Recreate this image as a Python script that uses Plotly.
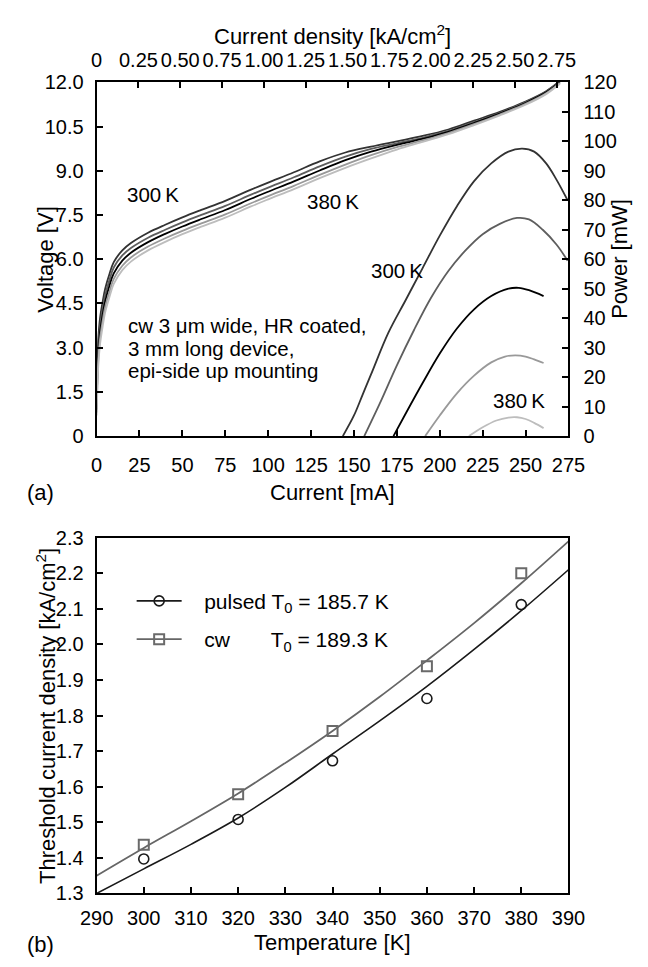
import plotly.graph_objects as go

W, H = 648, 967
FONT = "Liberation Sans, Arial, Helvetica, sans-serif"

# ---------------- Panel (a) data ----------------
current_v = [0, 0.5, 1, 2, 3.5, 5, 7.5, 10, 15, 20, 30, 40, 50, 60, 75, 90, 100,
             115, 130, 145, 160, 175, 190, 205, 220, 235, 250, 262, 270]
v_300 = [1.2, 2.6, 3.3, 4.0, 4.55, 5.0, 5.5, 5.9, 6.3, 6.55, 6.9, 7.17, 7.42, 7.65, 7.98,
         8.36, 8.6, 8.95, 9.32, 9.62, 9.82, 10.0, 10.18, 10.4, 10.7, 11.0, 11.35, 11.7, 12.05]
v_320 = [1.0, 2.3, 3.0, 3.7, 4.3, 4.78, 5.3, 5.72, 6.13, 6.38, 6.73, 7.0, 7.25, 7.48, 7.81,
         8.19, 8.43, 8.78, 9.15, 9.48, 9.74, 9.93, 10.12, 10.35, 10.65, 10.96, 11.32, 11.68, 12.03]
v_340 = [0.9, 2.1, 2.8, 3.5, 4.1, 4.57, 5.1, 5.52, 5.95, 6.22, 6.58, 6.86, 7.11, 7.34, 7.67,
         8.05, 8.29, 8.64, 9.01, 9.36, 9.65, 9.88, 10.08, 10.32, 10.62, 10.94, 11.3, 11.66, 12.0]
v_360 = [0.8, 1.9, 2.6, 3.3, 3.9, 4.38, 4.9, 5.33, 5.78, 6.06, 6.43, 6.71, 6.96, 7.19, 7.52,
         7.9, 8.14, 8.49, 8.86, 9.21, 9.53, 9.8, 10.03, 10.28, 10.58, 10.91, 11.27, 11.63, 11.98]
v_380 = [0.7, 1.7, 2.4, 3.1, 3.7, 4.2, 4.72, 5.16, 5.63, 5.92, 6.3, 6.59, 6.85, 7.08, 7.41,
         7.79, 8.03, 8.38, 8.75, 9.1, 9.42, 9.72, 9.98, 10.24, 10.55, 10.88, 11.24, 11.6, 11.95]

cur_p300 = [143.5, 150, 155, 160, 170, 180, 190, 200, 210, 220, 230, 240, 248, 255, 262, 268, 274.5]
p_300 = [0, 7, 14, 21, 35, 46, 57, 68, 78, 86.5, 92.5, 96.5, 97.5, 96.5, 92.5, 87, 80]
cur_p320 = [156, 165, 175, 185, 195, 205, 215, 225, 235, 245, 252, 260, 268, 274.5]
p_320 = [0, 11, 24, 36, 47, 56, 63, 68.5, 72, 74, 73.5, 70, 65, 59.5]
cur_p340 = [173, 180, 190, 200, 210, 220, 230, 240, 246, 252, 260.5]
p_340 = [0, 7.5, 18, 28, 36.5, 43, 47.5, 50, 50.3, 49.5, 47.5]
cur_p360 = [191.5, 200, 210, 220, 230, 238, 244, 250, 255, 260.5]
p_360 = [0, 7, 14.5, 20.5, 25, 27, 27.4, 27, 26, 24.8]
cur_p380 = [217, 225, 233, 240, 245, 250, 255, 260.5]
p_380 = [0, 3, 5.3, 6.3, 6.4, 5.8, 4.5, 2.7]

curve_colors = ["#333333", "#5e5e5e", "#000000", "#999999", "#bdbdbd"]

x_ticks = [0, 25, 50, 75, 100, 125, 150, 175, 200, 225, 250, 275]
density_ticks = [0, 0.25, 0.5, 0.75, 1.0, 1.25, 1.5, 1.75, 2.0, 2.25, 2.5, 2.75]
density_labels = ["0", "0.25", "0.50", "0.75", "1.00", "1.25", "1.50", "1.75", "2.00",
                  "2.25", "2.50", "2.75"]
v_ticks = [0, 1.5, 3.0, 4.5, 6.0, 7.5, 9.0, 10.5, 12.0]
v_labels = ["0", "1.5", "3.0", "4.5", "6.0", "7.5", "9.0", "10.5", "12.0"]
p_ticks = [0, 10, 20, 30, 40, 50, 60, 70, 80, 90, 100, 110, 120]

# ---------------- Panel (b) data ----------------
temp = [300, 320, 340, 360, 380]
jth_pulsed = [1.397, 1.508, 1.673, 1.848, 2.112]
jth_cw = [1.437, 1.579, 1.757, 1.939, 2.200]
temp_fit = [290, 300, 310, 320, 330, 340, 350, 360, 370, 380, 390]
fit_pulsed = [1.300, 1.369, 1.438, 1.512, 1.598, 1.692, 1.785, 1.882, 1.986, 2.095, 2.210]
fit_cw = [1.350, 1.428, 1.503, 1.581, 1.667, 1.757, 1.853, 1.955, 2.060, 2.172, 2.290]
t_ticks = [290, 300, 310, 320, 330, 340, 350, 360, 370, 380, 390]
j_ticks = [1.3, 1.4, 1.5, 1.6, 1.7, 1.8, 1.9, 2.0, 2.1, 2.2, 2.3]

# ---------------- layout geometry (page pixels) ----------------
AX_L, AX_R = 84, 582
A_TOP, A_BOT = 73, 435
B_TOP, B_BOT = 539, 903


def px_x(px):
    return px / W


def px_y(py):
    return 1 - py / H


fig = go.Figure()

for vals, col in zip([v_300, v_320, v_340, v_360, v_380], curve_colors):
    fig.add_trace(go.Scatter(x=current_v, y=vals, mode="lines",
                             line=dict(color=col, width=1.8, shape="spline"),
                             xaxis="x", yaxis="y", showlegend=False))
for xs, vals, col in zip([cur_p300, cur_p320, cur_p340, cur_p360, cur_p380],
                         [p_300, p_320, p_340, p_360, p_380], curve_colors):
    fig.add_trace(go.Scatter(x=xs, y=vals, mode="lines",
                             line=dict(color=col, width=1.8, shape="spline"),
                             xaxis="x", yaxis="y2", showlegend=False))
fig.add_trace(go.Scatter(x=[None], y=[None], xaxis="x2", yaxis="y", showlegend=False, hoverinfo="skip"))

fig.add_trace(go.Scatter(x=temp_fit, y=fit_pulsed, mode="lines",
                         line=dict(color="#1a1a1a", width=1.6, shape="spline"),
                         xaxis="x3", yaxis="y3", showlegend=False))
fig.add_trace(go.Scatter(x=temp_fit, y=fit_cw, mode="lines",
                         line=dict(color="#666666", width=1.8, shape="spline"),
                         xaxis="x3", yaxis="y3", showlegend=False))
fig.add_trace(go.Scatter(x=temp, y=jth_pulsed, mode="markers",
                         marker=dict(symbol="circle-open", size=10, color="#1a1a1a", line=dict(width=1.6)),
                         xaxis="x3", yaxis="y3", showlegend=False))
fig.add_trace(go.Scatter(x=temp, y=jth_cw, mode="markers",
                         marker=dict(symbol="square-open", size=10, color="#6a6a6a", line=dict(width=2)),
                         xaxis="x3", yaxis="y3", showlegend=False))
fig.add_trace(go.Scatter(x=[None], y=[None], mode="lines+markers", legendgroup="p",
                         name="\u00a0\u00a0\u00a0pulsed T<sub>0</sub> = 185.7 K",
                         line=dict(color="#1a1a1a", width=1.6),
                         marker=dict(symbol="circle-open", size=10, color="#1a1a1a", line=dict(width=1.6)),
                         xaxis="x3", yaxis="y3"))
fig.add_trace(go.Scatter(x=[None], y=[None], mode="lines+markers", legendgroup="c",
                         name="\u00a0\u00a0\u00a0cw" + "\u00a0" * 7 + "T<sub>0</sub> = 189.3 K",
                         line=dict(color="#666666", width=1.8),
                         marker=dict(symbol="square-open", size=10, color="#6a6a6a", line=dict(width=2)),
                         xaxis="x3", yaxis="y3"))

TICKFONT = dict(family=FONT, size=20, color="black")
axis_common = dict(showline=True, linecolor="black", linewidth=2, ticks="inside", ticklen=6,
                   tickwidth=1.5, tickcolor="black", showgrid=False, zeroline=False, tickfont=TICKFONT)

xdom = [px_x(AX_L), px_x(AX_R)]

fig.update_layout(
    width=W, height=H,
    margin=dict(l=0, r=0, t=0, b=0),
    paper_bgcolor="white", plot_bgcolor="white",
    font=dict(family=FONT, size=20, color="black"),
    xaxis=dict(domain=xdom, range=[0, 275], tickvals=x_ticks, anchor="y", ticklabelstandoff=10, **axis_common),
    xaxis2=dict(domain=xdom, range=[0, 2.82], tickvals=density_ticks, ticktext=density_labels,
                overlaying="x", side="top", anchor="y", ticklabelstandoff=5, **axis_common),
    yaxis=dict(domain=[px_y(A_BOT), px_y(A_TOP)], range=[0, 12], tickvals=v_ticks, ticktext=v_labels,
               anchor="x", ticklabelstandoff=7, **axis_common),
    yaxis2=dict(domain=[px_y(A_BOT), px_y(A_TOP)], range=[0, 120], tickvals=p_ticks,
                overlaying="y", side="right", anchor="x", ticklabelstandoff=9, **axis_common),
    xaxis3=dict(domain=xdom, range=[290, 390], tickvals=t_ticks, anchor="y3", mirror=True,
                ticklabelstandoff=6, **axis_common),
    yaxis3=dict(domain=[px_y(B_BOT), px_y(B_TOP)], range=[1.3, 2.3], tickvals=j_ticks,
                tickformat=".1f", anchor="x3", mirror=True, ticklabelstandoff=7, **axis_common),
    legend=dict(x=px_x(121), y=px_y(583), xanchor="left", yanchor="top", bgcolor="rgba(0,0,0,0)",
                font=dict(family=FONT, size=21, color="black"), itemwidth=45, tracegroupgap=8,
                borderwidth=0),
)

ann = []


def add_text(text, x, y, xref, yref, size=20, angle=0, xanchor="center"):
    ann.append(dict(text=text, x=x, y=y, xref=xref, yref=yref, showarrow=False, textangle=angle,
                    xanchor=xanchor, yanchor="middle", align="left",
                    font=dict(family=FONT, size=size, color="black")))


mid_x = px_x((AX_L + AX_R) / 2)
add_text("Current density [kA/cm<sup>2</sup>]", mid_x, px_y(25), "paper", "paper", size=22)
add_text("Current [mA]", mid_x, px_y(493), "paper", "paper", size=22)
add_text("Voltage [V]", px_x(30), px_y((A_TOP + A_BOT) / 2), "paper", "paper", size=22, angle=-90)
add_text("Power [mW]", px_x(636), px_y((A_TOP + A_BOT) / 2), "paper", "paper", size=22, angle=-90)
add_text("(a)", px_x(25), px_y(493), "paper", "paper", size=22)
add_text("Threshold current density [kA/cm<sup>2</sup>]", px_x(30), px_y((B_TOP + B_BOT) / 2),
         "paper", "paper", size=22, angle=-90)
add_text("Temperature [K]", mid_x, px_y(953), "paper", "paper", size=22)
add_text("(b)", px_x(25), px_y(955), "paper", "paper", size=22)

add_text("300\u2009K", 33, 8.18, "x", "y", size=20.5)
add_text("380\u2009K", 138, 7.95, "x", "y", size=20.5)
add_text("300\u2009K", 175.3, 56.3, "x", "y2", size=20.5)
add_text("380\u2009K", 245.9, 12.2, "x", "y2", size=20.5)
add_text("cw 3 \u03bcm wide, HR coated,", 17, 3.75, "x", "y", size=20.5, xanchor="left")
add_text("3 mm long device,", 17, 2.98, "x", "y", size=20.5, xanchor="left")
add_text("epi-side up mounting", 17, 2.22, "x", "y", size=20.5, xanchor="left")

fig.update_layout(annotations=ann)

fig.write_html("out.html", config={"displayModeBar": False},
               post_script="document.body.style.margin='0px';document.body.style.padding='0px';"
                           "document.documentElement.style.overflow='hidden';")
